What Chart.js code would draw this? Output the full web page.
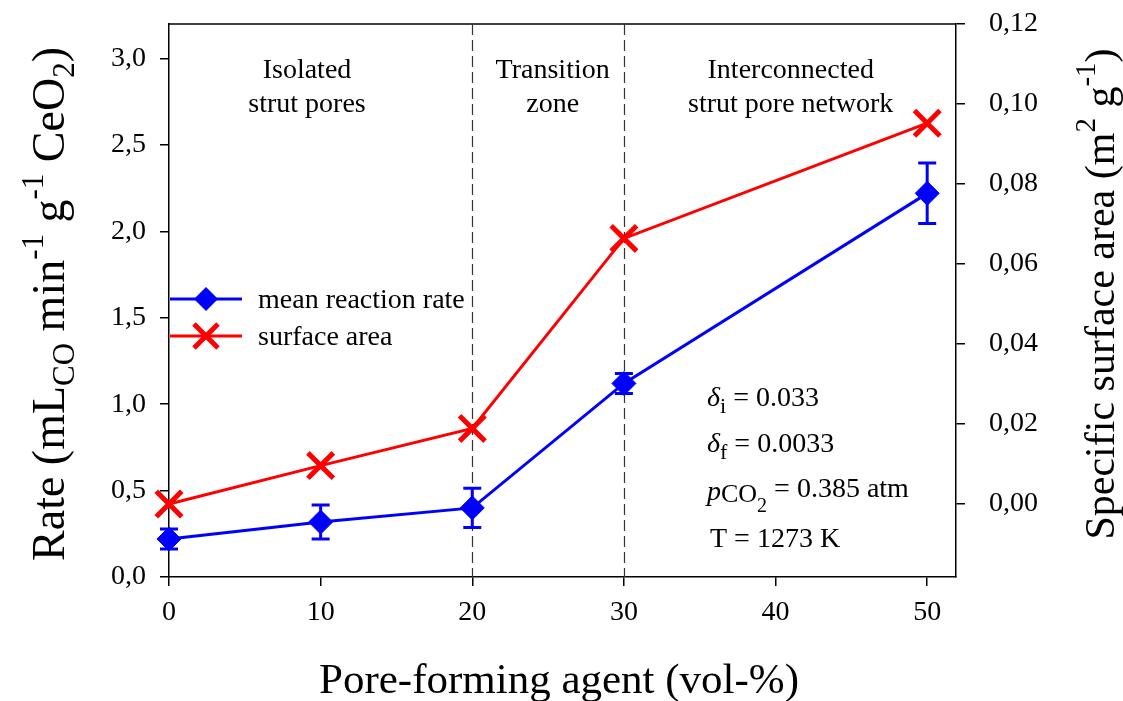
<!DOCTYPE html>
<html>
<head>
<meta charset="utf-8">
<script src="https://cdn.jsdelivr.net/npm/chart.js@4/dist/chart.umd.min.js"></script>
<style>
  html, body { margin: 0; padding: 0; background: #fff; }
</style>
</head>
<body>
<canvas id="canv" width="1123" height="701"></canvas>
<script>
// data
const poreAgent = [0, 10, 20, 30, 50];
const meanRate = [0.22, 0.318, 0.40, 1.12, 2.22];
const rateErr = [0.058, 0.098, 0.113, 0.058, 0.175];
const surfaceArea = [0.0, 0.0096, 0.0189, 0.0664, 0.0952];

const xTicks = [0, 10, 20, 30, 40, 50];
const rateTicks = [0, 0.5, 1.0, 1.5, 2.0, 2.5, 3.0];
const areaTicks = [0, 0.02, 0.04, 0.06, 0.08, 0.10, 0.12];
const zoneBounds = [20, 30];

const SERIF = '"Liberation Serif", "Times New Roman", serif';
const BLUE = '#0000ff';
const RED = '#ff0000';

function fnt(size, italic) {
  return (italic ? 'italic ' : '') + size + 'px ' + SERIF;
}

// draws a run of text pieces: [text, size, dy, italic]
function richText(ctx, parts, x, y, align) {
  let total = 0;
  parts.forEach(p => { ctx.font = fnt(p[1], p[3]); total += ctx.measureText(p[0]).width; });
  let cx = align === 'center' ? x - total / 2 : x;
  parts.forEach(p => {
    ctx.font = fnt(p[1], p[3]);
    ctx.fillText(p[0], cx, y + (p[2] || 0));
    cx += ctx.measureText(p[0]).width;
  });
}

function diamond(ctx, x, y, r) {
  ctx.beginPath();
  ctx.moveTo(x - r, y); ctx.lineTo(x, y - r); ctx.lineTo(x + r, y); ctx.lineTo(x, y + r);
  ctx.closePath();
  ctx.fillStyle = BLUE; ctx.fill();
}

function crossX(ctx, x, y, r) {
  ctx.beginPath();
  ctx.moveTo(x - r, y - r); ctx.lineTo(x + r, y + r);
  ctx.moveTo(x - r, y + r); ctx.lineTo(x + r, y - r);
  ctx.strokeStyle = RED; ctx.lineWidth = 5; ctx.stroke();
}

function noPad(s) {
  s.paddingTop = 0; s.paddingBottom = 0; s.paddingLeft = 0; s.paddingRight = 0;
}

const extras = {
  id: 'extras',
  beforeDatasetsDraw(chart) {
    const ctx = chart.ctx, a = chart.chartArea;
    const xs = chart.scales.x, ys = chart.scales.y;
    ctx.save();
    // top frame line
    ctx.strokeStyle = '#000'; ctx.lineWidth = 1.5;
    ctx.beginPath(); ctx.moveTo(a.left, a.top); ctx.lineTo(a.right, a.top); ctx.stroke();
    // zone boundaries
    ctx.strokeStyle = '#333'; ctx.lineWidth = 1.2; ctx.setLineDash([11, 5]);
    zoneBounds.forEach(v => {
      const px = Math.round(xs.getPixelForValue(v)) + 0.5;
      ctx.beginPath(); ctx.moveTo(px, a.top); ctx.lineTo(px, a.bottom); ctx.stroke();
    });
    ctx.setLineDash([]);
    // error bars
    ctx.strokeStyle = BLUE; ctx.lineWidth = 3;
    poreAgent.forEach((v, i) => {
      const px = xs.getPixelForValue(v);
      const top = ys.getPixelForValue(meanRate[i] + rateErr[i]);
      const bot = ys.getPixelForValue(meanRate[i] - rateErr[i]);
      ctx.beginPath();
      ctx.moveTo(px, top); ctx.lineTo(px, bot);
      ctx.moveTo(px - 9, top); ctx.lineTo(px + 9, top);
      ctx.moveTo(px - 9, bot); ctx.lineTo(px + 9, bot);
      ctx.stroke();
    });
    ctx.restore();
  },
  afterDraw(chart) {
    const ctx = chart.ctx;
    const xs = chart.scales.x;
    ctx.save();
    ctx.fillStyle = '#000';
    ctx.textBaseline = 'alphabetic';

    // zone labels
    ctx.font = fnt(28);
    ctx.textAlign = 'center';
    const zones = [
      [9.1, 'Isolated', 'strut pores'],
      [25.3, 'Transition', 'zone'],
      [41.0, 'Interconnected', 'strut pore network']
    ];
    zones.forEach(z => {
      const px = xs.getPixelForValue(z[0]);
      ctx.fillText(z[1], px, 78);
      ctx.fillText(z[2], px, 112);
    });
    ctx.textAlign = 'left';

    // legend
    const legendRows = [
      [299, BLUE, 'mean reaction rate', 'd'],
      [336, RED, 'surface area', 'x']
    ];
    legendRows.forEach(r => {
      ctx.strokeStyle = r[1]; ctx.lineWidth = 3;
      ctx.beginPath(); ctx.moveTo(170, r[0]); ctx.lineTo(242, r[0]); ctx.stroke();
      if (r[3] === 'd') diamond(ctx, 206, r[0], 12); else crossX(ctx, 206, r[0], 12);
      ctx.fillStyle = '#000'; ctx.font = fnt(28);
      ctx.fillText(r[2], 258, r[0] + 9);
    });

    // conditions
    richText(ctx, [['\u03b4', 28, 0, true], ['i', 22, 7], [' = 0.033', 28, 0]], 707, 406);
    richText(ctx, [['\u03b4', 28, 0, true], ['f', 22, 7], [' = 0.0033', 28, 0]], 707, 452);
    richText(ctx, [['p', 28, 3, true], ['CO', 26, 5], ['2', 20, 15], [' = 0.385 atm', 28, 0]], 707, 497);
    richText(ctx, [['T = 1273 K', 28, 0]], 710, 547);

    // axis titles
    richText(ctx, [['Pore-forming agent (vol-%)', 43, 0]], 559, 693, 'center');

    ctx.save();
    ctx.translate(64, 304);
    ctx.rotate(-Math.PI / 2);
    richText(ctx, [
      ['Rate (mL', 46, 0], ['CO', 31, 10], [' min', 46, 0], ['-1', 31, -21],
      [' g', 46, 0], ['-1', 31, -21], [' CeO', 46, 0], ['2', 31, 10], [')', 46, 0]
    ], 0, 0, 'center');
    ctx.restore();

    ctx.save();
    ctx.translate(1114, 294);
    ctx.rotate(-Math.PI / 2);
    richText(ctx, [
      ['Specific surface area (m', 42, 0], ['2', 29, -19], [' g', 42, 0], ['-1', 29, -19], [')', 42, 0]
    ], 0, 0, 'center');
    ctx.restore();

    ctx.restore();
  }
};

const tickFont = { family: SERIF, size: 28 };
const axisGrid = { display: true, drawOnChartArea: false, drawTicks: true, tickLength: 9, color: '#000', lineWidth: 1.5 };
const axisBorder = { display: true, color: '#000', width: 1.5 };

new Chart(document.getElementById('canv').getContext('2d'), {
  type: 'line',
  data: {
    datasets: [{
      label: 'mean reaction rate',
      data: poreAgent.map((v, i) => ({ x: v, y: meanRate[i] })),
      yAxisID: 'y',
      clip: false,
      borderColor: BLUE,
      backgroundColor: BLUE,
      borderWidth: 3,
      pointStyle: 'rectRot',
      pointRadius: 12,
      pointBorderWidth: 1,
      pointBackgroundColor: BLUE,
      pointBorderColor: BLUE
    }, {
      label: 'surface area',
      data: poreAgent.map((v, i) => ({ x: v, y: surfaceArea[i] })),
      yAxisID: 'y1',
      clip: false,
      borderColor: RED,
      backgroundColor: RED,
      borderWidth: 3,
      pointStyle: 'crossRot',
      pointRadius: 18,
      pointBorderWidth: 5,
      pointBorderColor: RED
    }]
  },
  options: {
    responsive: false,
    animation: false,
    layout: { padding: { top: 24, left: 0, right: 0, bottom: 0 } },
    plugins: { legend: { display: false }, tooltip: { enabled: false } },
    scales: {
      x: {
        type: 'linear', min: 0, max: 51.9,
        afterBuildTicks: s => { s.ticks = xTicks.map(v => ({ value: v })); },
        afterFit: s => { s.height = 124; noPad(s); },
        ticks: { font: tickFont, color: '#000', padding: 10, maxRotation: 0, autoSkip: false },
        grid: axisGrid, border: axisBorder
      },
      y: {
        position: 'left', min: 0, max: 3.2,
        afterBuildTicks: s => { s.ticks = rateTicks.map(v => ({ value: v })); },
        afterFit: s => { s.width = 169; noPad(s); },
        ticks: { font: tickFont, color: '#000', padding: 14, callback: v => v.toFixed(1).replace('.', ',') },
        grid: axisGrid, border: axisBorder
      },
      y1: {
        position: 'right', min: -0.01825, max: 0.12,
        afterBuildTicks: s => { s.ticks = areaTicks.map(v => ({ value: v })); },
        afterFit: s => { s.width = 167; noPad(s); },
        ticks: { font: tickFont, color: '#000', padding: 24, callback: v => v.toFixed(2).replace('.', ',') },
        grid: axisGrid, border: axisBorder
      }
    }
  },
  plugins: [extras]
});
</script>
</body>
</html>
